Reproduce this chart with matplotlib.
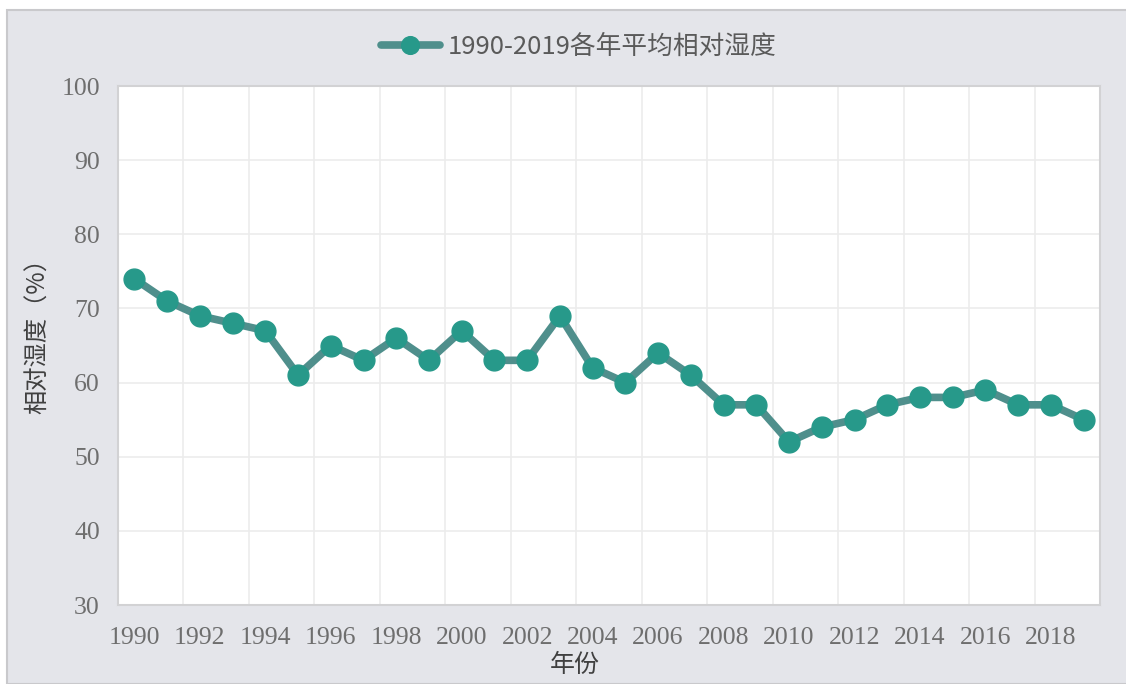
import numpy as np
import matplotlib.pyplot as plt
from matplotlib.patches import Rectangle

plt.rcParams['font.family'] = ['Noto Sans CJK SC', 'DejaVu Sans']

# Data
years = list(range(1990, 2020))
humidity = [74, 71, 69, 68, 67, 61, 65, 63, 66, 63,
            67, 63, 63, 69, 62, 60, 64, 61, 57, 57,
            52, 54, 55, 57, 58, 58, 59, 57, 57, 55]
y_ticks = [30, 40, 50, 60, 70, 80, 90, 100]
series_label = "1990-2019各年平均相对湿度"

fig = plt.figure(figsize=(11.26, 6.84), dpi=100)
fig.patch.set_facecolor('white')
# outer chart panel
fig.patches.append(Rectangle((7 / 1126, 0), 1.0, 1 - 10 / 684, transform=fig.transFigure,
                             facecolor='#e4e5ea', edgecolor='#c9c9cc', linewidth=1.5, zorder=-5))

ax = fig.add_axes([118 / 1126, 1 - 605 / 684, (1100 - 118) / 1126, (605 - 86) / 684])
ax.set_zorder(2)
ax.set_facecolor('white')

x = np.arange(len(years))
ax.plot(x, humidity, color='#4f8f8c', linewidth=5.5, marker='o', markersize=15,
        markerfacecolor='#27998a', markeredgecolor='#27998a', label=series_label,
        solid_capstyle='round', zorder=3, clip_on=False)

ax.set_xlim(-0.5, len(years) - 0.5)
ax.set_ylim(30, 100)
ax.set_yticks(y_ticks)
ax.set_xticks(x[::2])
ax.set_xticklabels([str(y) for y in years[::2]])
ax.set_xticks(np.arange(-0.5, len(years), 2), minor=True)

ax.grid(True, which='minor', axis='x', color='#ececec', linewidth=1.2)
ax.grid(True, which='major', axis='y', color='#ececec', linewidth=1.2)
ax.set_axisbelow(True)

for s in ax.spines.values():
    s.set_color('#d2d2d4')
    s.set_linewidth(1.5)

ax.tick_params(which='both', length=0)
ax.tick_params(axis='y', pad=13)
ax.tick_params(axis='x', pad=16)
for lab in ax.get_xticklabels() + ax.get_yticklabels():
    lab.set_family('Liberation Serif')
    lab.set_fontsize(18.5)
    lab.set_color('#6e6e6e')

ax.set_xlabel('年份', fontsize=18, color='#404040')
ax.xaxis.set_label_coords(0.465, -0.09)
ax.set_ylabel('相对湿度（%）', fontsize=17.5, color='#404040')
ax.yaxis.set_label_coords(-0.068, 0.53)

leg = ax.legend(loc='center', bbox_to_anchor=(0.469, 1.075), frameon=False,
                fontsize=18.5, handlelength=2.3, handletextpad=0.3, markerscale=0.85)
for t in leg.get_texts():
    t.set_color('#5a5a5a')

fig.savefig('out.png', dpi=100)
